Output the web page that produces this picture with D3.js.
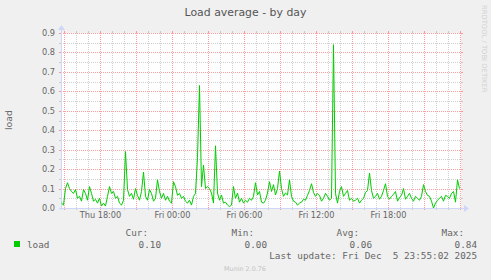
<!DOCTYPE html>
<html>
<head>
<meta charset="utf-8">
<script src="https://cdn.jsdelivr.net/npm/d3@7"></script>
<style>
  html, body { margin: 0; padding: 0; background: #f0f0f0; }
  svg { display: block; }
</style>
</head>
<body>
<svg width="491" height="280"></svg>
<script>
const width = 491;
const height = 280;

// load average, one sample every 10 minutes from Thu Dec 4 14:45
const start = new Date(2025, 11, 4, 14, 45);
const stepMin = 10;
const load = [
  0.025, 0.015, 0.10, 0.13, 0.10, 0.085, 0.075, 0.095, 0.05, 0.06,
  0.035, 0.095, 0.075, 0.04, 0.11, 0.075, 0.035, 0.045, 0.025, 0.05,
  0.01, 0.025, 0.01, 0.06, 0.11, 0.075, 0.085, 0.05, 0.06, 0.025,
  0.015, 0.04, 0.29, 0.095, 0.06, 0.075, 0.045, 0.10, 0.065, 0.04,
  0.085, 0.185, 0.06, 0.04, 0.095, 0.075, 0.035, 0.05, 0.145, 0.085,
  0.05, 0.075, 0.04, 0.06, 0.035, 0.025, 0.135, 0.11, 0.065, 0.075,
  0.05, 0.06, 0.035, 0.025, 0.04, 0.015, 0.06, 0.075, 0.26, 0.63,
  0.11, 0.22, 0.10, 0.11, 0.10, 0.077, 0.025, 0.32, 0.077, 0.04,
  0.067, 0.025, 0.03, 0.015, 0.007, 0.015, 0.11, 0.05, 0.077, 0.03,
  0.05, 0.025, 0.04, 0.03, 0.05, 0.04, 0.06, 0.13, 0.067, 0.085,
  0.03, 0.025, 0.04, 0.077, 0.135, 0.085, 0.12, 0.067, 0.10, 0.19,
  0.10, 0.06, 0.077, 0.067, 0.145, 0.06, 0.035, 0.03, 0.015, 0.025,
  0.03, 0.045, 0.04, 0.065, 0.09, 0.125, 0.08, 0.06, 0.075, 0.065,
  0.035, 0.05, 0.075, 0.06, 0.04, 0.05, 0.84, 0.075, 0.025, 0.085,
  0.11, 0.06, 0.075, 0.09, 0.04, 0.05, 0.035, 0.04, 0.05, 0.025,
  0.04, 0.05, 0.08, 0.09, 0.18, 0.09, 0.05, 0.06, 0.075, 0.045,
  0.06, 0.09, 0.125, 0.06, 0.045, 0.06, 0.07, 0.085, 0.035, 0.055,
  0.065, 0.10, 0.045, 0.06, 0.075, 0.05, 0.035, 0.06, 0.05, 0.04,
  0.06, 0.12, 0.085, 0.065, 0.06, 0.035, 0.0, 0.025, 0.04, 0.05,
  0.06, 0.035, 0.065, 0.06, 0.05, 0.075, 0.085, 0.03, 0.145, 0.10
];

const yTicks = [0, 0.1, 0.2, 0.3, 0.4, 0.5, 0.6, 0.7, 0.8, 0.9];
const statLabels = ["Cur:", "Min:", "Avg:", "Max:"];
const statValues = ["0.10", "0.00", "0.06", "0.84"];
const lastUpdate = "Last update: Fri Dec  5 23:55:02 2025";

const data = load.map((v, i) => ({ t: new Date(+start + i * stepMin * 60000), v }));

const gLeft = 61, gRight = 461, gTop = 33, gBottom = 208;

const x = d3.scaleTime()
  .domain([start, new Date(2025, 11, 6, 0, 5)])
  .range([gLeft, gRight]);
const y = d3.scaleLinear()
  .domain([0, 0.9])
  .range([gBottom, gTop]);

const svg = d3.select("svg");

svg.append("rect")
  .attr("width", width).attr("height", height)
  .attr("fill", "#f0f0f0");
svg.append("rect")
  .attr("x", gLeft).attr("y", gTop)
  .attr("width", gRight - gLeft).attr("height", gBottom - gTop)
  .attr("fill", "#ffffff");

const minorColor = "rgba(175,175,175,0.6)";
const majorColor = "rgba(255,64,64,0.5)";

// vertical grid
const grid = svg.append("g").attr("shape-rendering", "crispEdges");
const hours = x.ticks(d3.timeHour.every(1));
hours.forEach(t => {
  const px = Math.round(x(t)) + 0.5;
  const major = t.getHours() % 3 === 0;
  const c = major ? majorColor : minorColor;
  grid.append("line")
    .attr("x1", px).attr("x2", px)
    .attr("y1", gTop).attr("y2", gBottom)
    .attr("stroke", c).attr("stroke-dasharray", "1,1");
  grid.append("line")
    .attr("x1", px).attr("x2", px)
    .attr("y1", gBottom).attr("y2", gBottom + 2)
    .attr("stroke", c);
  grid.append("line")
    .attr("x1", px).attr("x2", px)
    .attr("y1", gTop - 2).attr("y2", gTop)
    .attr("stroke", c);
});

// horizontal grid
d3.range(0, 19).forEach(i => {
  const v = i * 0.05;
  const py = Math.round(y(v)) + 0.5;
  const c = i % 2 === 0 ? majorColor : minorColor;
  grid.append("line")
    .attr("x1", gLeft).attr("x2", gRight)
    .attr("y1", py).attr("y2", py)
    .attr("stroke", c).attr("stroke-dasharray", "1,1");
  grid.append("line")
    .attr("x1", gLeft - 2).attr("x2", gLeft)
    .attr("y1", py).attr("y2", py)
    .attr("stroke", c);
  grid.append("line")
    .attr("x1", gRight).attr("x2", gRight + 2)
    .attr("y1", py).attr("y2", py)
    .attr("stroke", c);
});

// axes with arrows
const axisColor = "#CFD6F8";
svg.append("line")
  .attr("x1", gLeft - 2).attr("x2", gRight + 4)
  .attr("y1", gBottom + 0.5).attr("y2", gBottom + 0.5)
  .attr("stroke", axisColor);
svg.append("line")
  .attr("x1", gLeft + 0.5).attr("x2", gLeft + 0.5)
  .attr("y1", gBottom + 2).attr("y2", gTop - 4)
  .attr("stroke", axisColor);
svg.append("path")
  .attr("d", `M${gRight + 3},${gBottom - 3} L${gRight + 8},${gBottom + 0.5} L${gRight + 3},${gBottom + 4} Z`)
  .attr("fill", axisColor);
svg.append("path")
  .attr("d", `M${gLeft - 3},${gTop - 3} L${gLeft + 0.5},${gTop - 8} L${gLeft + 4},${gTop - 3} Z`)
  .attr("fill", axisColor);

// tick labels
const fontColor = "#666666";
svg.append("g")
  .selectAll("text")
  .data(yTicks)
  .join("text")
  .attr("x", 55)
  .attr("y", d => y(d) + 3)
  .attr("text-anchor", "end")
  .attr("font-family", "DejaVu Sans")
  .attr("font-size", 8.2)
  .attr("fill", fontColor)
  .text(d3.format(".1f"));

const fmt = d3.timeFormat("%a %H:%M");
svg.append("g")
  .selectAll("text")
  .data(x.ticks(d3.timeHour.every(6)).filter(t => x(t) < gRight - 20))
  .join("text")
  .attr("x", d => x(d) + 0.5)
  .attr("y", 218)
  .attr("text-anchor", "middle")
  .attr("font-family", "DejaVu Sans")
  .attr("font-size", 8.2)
  .attr("fill", fontColor)
  .text(fmt);

// the series
svg.append("path")
  .datum(data)
  .attr("fill", "none")
  .attr("stroke", "#00CC00")
  .attr("stroke-width", 1)
  .attr("d", d3.line().x(d => x(d.t) + 0.5).y(d => y(d.v)));

// title and labels
svg.append("text")
  .attr("x", 245.5).attr("y", 16)
  .attr("text-anchor", "middle")
  .attr("font-family", "DejaVu Sans")
  .attr("font-size", 10.9)
  .attr("fill", "#555555")
  .text("Load average - by day");

svg.append("text")
  .attr("transform", "translate(12,120) rotate(-90)")
  .attr("text-anchor", "middle")
  .attr("font-family", "DejaVu Sans")
  .attr("font-size", 9.33)
  .attr("fill", fontColor)
  .text("load");

svg.append("text")
  .attr("transform", "translate(482,5) rotate(90)")
  .attr("font-family", "DejaVu Sans")
  .attr("font-size", 6.8)
  .attr("fill", "#d0d0d0")
  .text("RRDTOOL / TOBI OETIKER");

// legend
const legend = svg.append("g")
  .attr("font-family", "DejaVu Sans Mono")
  .attr("font-size", 9.33)
  .attr("fill", fontColor);

legend.append("rect")
  .attr("x", 14).attr("y", 241)
  .attr("width", 6).attr("height", 6)
  .attr("fill", "#00CC00");
legend.append("text").attr("x", 27).attr("y", 247.5).text("load");

const valueEnds = [161, 267, 372, 477];
legend.selectAll("text.lab")
  .data(statLabels)
  .join("text")
  .attr("class", "lab")
  .attr("x", (d, i) => valueEnds[i] - 13)
  .attr("y", 236)
  .attr("text-anchor", "end")
  .text(d => d);
legend.selectAll("text.val")
  .data(statValues)
  .join("text")
  .attr("class", "val")
  .attr("x", (d, i) => valueEnds[i])
  .attr("y", 247.5)
  .attr("text-anchor", "end")
  .text(d => d);
legend.append("text")
  .attr("x", 477).attr("y", 259)
  .attr("text-anchor", "end")
  .attr("xml:space", "preserve")
  .style("white-space", "pre")
  .text(lastUpdate);

svg.append("text")
  .attr("x", 245).attr("y", 271)
  .attr("text-anchor", "middle")
  .attr("font-family", "DejaVu Sans")
  .attr("font-size", 6.4)
  .attr("fill", "#c4c4c4")
  .text("Munin 2.0.76");
</script>
</body>
</html>
